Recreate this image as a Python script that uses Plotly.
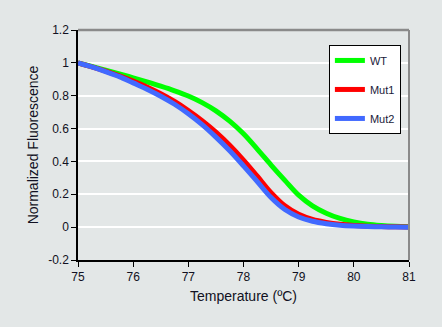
import plotly.graph_objects as go

# Melt curves: temperature (ºC) and normalized fluorescence per sample
temp = [75, 75.25, 75.5, 75.75, 76, 76.25, 76.5, 76.75, 77, 77.25, 77.5, 77.75,
        78, 78.25, 78.5, 78.75, 79, 79.25, 79.5, 79.75, 80, 80.25, 80.5, 80.75, 81]
wt   = [1.0, 0.978, 0.956, 0.933, 0.909, 0.884, 0.858, 0.830, 0.798, 0.758, 0.708, 0.645,
        0.568, 0.475, 0.378, 0.285, 0.195, 0.130, 0.085, 0.053, 0.032, 0.018, 0.010, 0.005, 0.002]
mut1 = [1.0, 0.976, 0.950, 0.921, 0.889, 0.853, 0.812, 0.765, 0.710, 0.648, 0.578, 0.498,
        0.408, 0.310, 0.210, 0.130, 0.078, 0.047, 0.029, 0.017, 0.010, 0.006, 0.004, 0.002, 0.001]
mut2 = [1.0, 0.975, 0.947, 0.916, 0.878, 0.840, 0.797, 0.748, 0.690, 0.624, 0.548, 0.465,
        0.373, 0.277, 0.180, 0.107, 0.062, 0.036, 0.021, 0.012, 0.007, 0.004, 0.002, 0.001, 0.0]

series_names = ["WT", "Mut1", "Mut2"]
series_colors = ["#00FF00", "#FF0000", "#4169FF"]

y_ticks = [1.2, 1, 0.8, 0.6, 0.4, 0.2, 0, -0.2]
y_tick_text = ["1.2", "1", "0.8", "0.6", "0.4", "0.2", "0", "-0.2"]
x_ticks = [75, 76, 77, 78, 79, 80, 81]

bg = "#E3E7E7"
font_family = "Liberation Sans, Arial, sans-serif"

fig = go.Figure()
for i, (name, vals, col) in enumerate(zip(series_names, [wt, mut1, mut2], series_colors)):
    fig.add_trace(go.Scatter(
        x=temp, y=vals, name=name, mode="lines",
        line=dict(color=col, width=5, shape="spline", smoothing=1.0),
        legendgroup=f"g{i}",
    ))

fig.update_layout(
    width=442, height=327,
    margin=dict(l=78, r=33, t=30, b=67),
    paper_bgcolor=bg, plot_bgcolor=bg,
    font=dict(family=font_family, size=12, color="#111122"),
    showlegend=True,
    legend=dict(
        x=0.758, y=0.935, xanchor="left", yanchor="top",
        bgcolor="white", bordercolor="black", borderwidth=1,
        font=dict(size=11, color="#1a1a3a"),
        itemwidth=30, tracegroupgap=10,
    ),
    xaxis=dict(
        range=[75, 81], tickvals=x_ticks,
        showgrid=False, zeroline=False,
        showline=True, linecolor="black", linewidth=1.5,
        ticks="outside", ticklen=5, tickcolor="black",
        title=dict(text="Temperature (ºC)", font=dict(size=14), standoff=8),
    ),
    yaxis=dict(
        range=[-0.2, 1.2], tickvals=y_ticks, ticktext=y_tick_text,
        showgrid=True, gridcolor="white", gridwidth=1.5,
        zeroline=False,
        showline=True, linecolor="black", linewidth=1.5,
        ticks="outside", ticklen=5, tickcolor="black",
        title=dict(text="Normalized Fluorescence", font=dict(size=14), standoff=6),
    ),
)

# Gray frame on the top and right edges of the plot area
fig.add_shape(type="line", xref="paper", yref="paper", x0=0, x1=1, y0=1, y1=1,
              line=dict(color="#8a8a8a", width=2.5))
fig.add_shape(type="line", xref="paper", yref="paper", x0=1, x1=1, y0=0, y1=1,
              line=dict(color="#8a8a8a", width=2))

fig.write_html("out.html")
